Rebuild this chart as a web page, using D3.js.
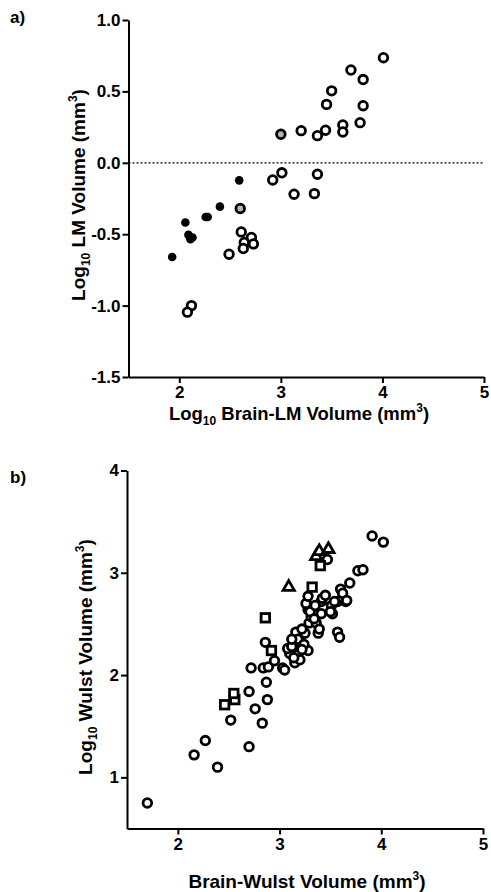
<!DOCTYPE html>
<html><head><meta charset="utf-8">
<script src="https://cdn.jsdelivr.net/npm/d3@7"></script>
<style>
body{margin:0;background:#fff;}
svg{font-family:"Liberation Sans",Arial,sans-serif;font-weight:bold;}
</style></head><body>
<svg id="c" width="491" height="892"></svg>
<script>
// Panel a data: [log10 brain-LM, log10 LM]
const aFilled = [[2.59,-0.123],[2.40,-0.307],[2.26,-0.38],[2.28,-0.38],[2.06,-0.418],[2.09,-0.505],[2.11,-0.535],[2.13,-0.523],[1.93,-0.66]];
const aOpen = [[4.01,0.736],[3.69,0.65],[3.81,0.583],[3.50,0.504],[3.45,0.409],[3.81,0.40],[3.78,0.281],[3.61,0.265],[3.61,0.216],[3.44,0.228],[3.36,0.19],[3.20,0.225],[3.01,-0.07],[2.92,-0.12],[3.36,-0.08],[3.13,-0.22],[3.33,-0.216],[2.61,-0.484],[2.64,-0.558],[2.63,-0.60],[2.71,-0.523],[2.73,-0.568],[2.49,-0.64],[2.12,-1.0],[2.08,-1.046]];
const aGrey = [[3.00,0.20],[2.60,-0.32]];
const aYTicks = [1.0,0.5,0.0,-0.5,-1.0,-1.5];
const aXTicks = [2,3,4,5];

// Panel b data: [brain-Wulst, log10 Wulst]
const bCircles = [[1.70,0.75],[2.16,1.22],[2.27,1.36],[2.39,1.10],[2.70,1.30],[2.52,1.56],[2.83,1.53],[2.76,1.67],[2.88,1.76],[2.70,1.84],[2.87,1.93],[2.72,2.07],[2.84,2.07],[2.89,2.08],[2.95,2.14],[3.03,2.07],[2.86,2.32],
 [3.05,2.05],[3.15,2.12],[3.10,2.21],[3.08,2.26],[3.15,2.31],[3.12,2.28],[3.20,2.37],[3.16,2.42],[3.25,2.41],[3.22,2.45],[3.18,2.35],[3.28,2.24],[3.24,2.30],[3.29,2.51],[3.31,2.57],[3.28,2.64],[3.30,2.62],[3.38,2.41],[3.36,2.51],[3.41,2.60],[3.41,2.72],[3.39,2.45],[3.34,2.55],[3.26,2.70],[3.28,2.77],[3.35,2.68],
 [3.52,2.60],[3.51,2.68],[3.57,2.72],[3.62,2.75],[3.65,2.72],[3.54,2.72],[3.42,2.75],[3.50,2.62],[3.57,2.42],[3.59,2.37],[3.60,2.84],[3.62,2.80],[3.69,2.90],[3.66,2.73],[3.77,3.02],[3.82,3.03],[3.91,3.36],[4.02,3.30],[3.47,3.13],[3.45,2.78],
 [3.12,2.35],[3.18,2.20],[3.20,2.15],[3.22,2.25],[3.14,2.17]];
const bSquares = [[2.46,1.71],[2.56,1.76],[2.55,1.82],[2.92,2.24],[2.86,2.56],[3.32,2.86],[3.40,3.07]];
const bTriangles = [[3.09,2.86],[3.36,3.16],[3.39,3.21],[3.48,3.23]];
const bYTicks = [4,3,2,1];
const bXTicks = [2,3,4,5];

const svg = d3.select("#c");
const SW = 2.8;
const FONT = "Liberation Sans, Arial, sans-serif";

function axes(g, x, y, xt, yt, fmt){
  g.append("g").attr("transform",`translate(${x.range()[0]},0)`)
    .call(d3.axisLeft(y).tickValues(yt).tickFormat(fmt).tickSize(6).tickSizeOuter(0).tickPadding(2))
    .call(s=>{s.selectAll("path,line").attr("stroke","#000").attr("stroke-width",2);
      s.selectAll("text").attr("font-size",17).attr("font-weight","bold").attr("font-family",FONT);});
  g.append("g").attr("transform",`translate(0,${y.range()[0]})`)
    .call(d3.axisBottom(x).tickValues(xt).tickFormat(d3.format("d")).tickSize(6).tickSizeOuter(0).tickPadding(3))
    .call(s=>{s.selectAll("path,line").attr("stroke","#000").attr("stroke-width",2);
      s.selectAll("text").attr("font-size",17).attr("font-weight","bold").attr("font-family",FONT);});
}
const fmtA = d => d3.format(".1f")(d).replace("\u2212","-");

// Panel a
const xa = d3.scaleLinear().domain([1.5,5]).range([128.5,484]);
const ya = d3.scaleLinear().domain([-1.5,1.0]).range([377,20]);
const ga = svg.append("g");
ga.append("line").attr("x1",xa(1.5)).attr("x2",xa(5)).attr("y1",ya(0)).attr("y2",ya(0))
  .attr("stroke","#000").attr("stroke-width",1.2).attr("stroke-dasharray","2,2");
axes(ga, xa, ya, aXTicks, aYTicks, fmtA);
ga.selectAll(".of").data(aOpen).join("circle").attr("cx",d=>xa(d[0])).attr("cy",d=>ya(d[1])).attr("r",4.3)
  .attr("fill","#fff").attr("stroke","#000").attr("stroke-width",SW);
ga.selectAll(".gf").data(aGrey).join("circle").attr("cx",d=>xa(d[0])).attr("cy",d=>ya(d[1])).attr("r",4.3)
  .attr("fill","#b5b5b5").attr("stroke","#000").attr("stroke-width",SW);
ga.selectAll(".ff").data(aFilled).join("circle").attr("cx",d=>xa(d[0])).attr("cy",d=>ya(d[1])).attr("r",4.3)
  .attr("fill","#000");

svg.append("text").attr("x",10).attr("y",23).attr("font-size",17).text("a)");
function label(t, parts){
  parts.forEach(p=>{
    const s = t.append("tspan").text(p[0]);
    if(p[1]==="sub") s.attr("font-size",12).attr("dy",5);
    else if(p[1]==="sup") s.attr("font-size",12).attr("dy",-8);
    else if(p[1]==="back5") s.attr("dy",-5);
    else if(p[1]==="back8") s.attr("dy",8);
  });
}
label(svg.append("text").attr("transform",`translate(85,195) rotate(-90)`).attr("text-anchor","middle").attr("font-size",19),
  [["Log"],["10","sub"],[" LM Volume (mm","back5"],["3","sup"],[")","back8"]]);
label(svg.append("text").attr("x",299).attr("y",420).attr("text-anchor","middle").attr("font-size",18.5),
  [["Log"],["10","sub"],[" Brain-LM Volume (mm","back5"],["3","sup"],[")","back8"]]);

// Panel b
const xb = d3.scaleLinear().domain([1.5,5]).range([127,483]);
const yb = d3.scaleLinear().domain([0.5,4]).range([828.5,470.5]);
const gb = svg.append("g");
axes(gb, xb, yb, bXTicks, bYTicks, d3.format("d"));
gb.selectAll(".bc").data(bCircles).join("circle").attr("cx",d=>xb(d[0])).attr("cy",d=>yb(d[1])).attr("r",4.3)
  .attr("fill","#fff").attr("stroke","#000").attr("stroke-width",SW);
const sq = 8.5;
gb.selectAll(".bs").data(bSquares).join("rect").attr("x",d=>xb(d[0])-sq/2).attr("y",d=>yb(d[1])-sq/2)
  .attr("width",sq).attr("height",sq).attr("fill","#fff").attr("stroke","#000").attr("stroke-width",SW);
const tri = d3.symbol().type(d3.symbolTriangle).size(55);
gb.selectAll(".bt").data(bTriangles).join("path").attr("d",tri)
  .attr("transform",d=>`translate(${xb(d[0])},${yb(d[1])})`)
  .attr("fill","#fff").attr("stroke","#000").attr("stroke-width",SW);

svg.append("text").attr("x",10).attr("y",483).attr("font-size",17).text("b)");
label(svg.append("text").attr("transform",`translate(92,657) rotate(-90)`).attr("text-anchor","middle").attr("font-size",19),
  [["Log"],["10","sub"],["  Wulst Volume (mm","back5"],["3","sup"],[")","back8"]]);
label(svg.append("text").attr("x",307).attr("y",888).attr("text-anchor","middle").attr("font-size",19),
  [["Brain-Wulst Volume (mm"],["3","sup"],[")","back8"]]);
</script></body></html>
